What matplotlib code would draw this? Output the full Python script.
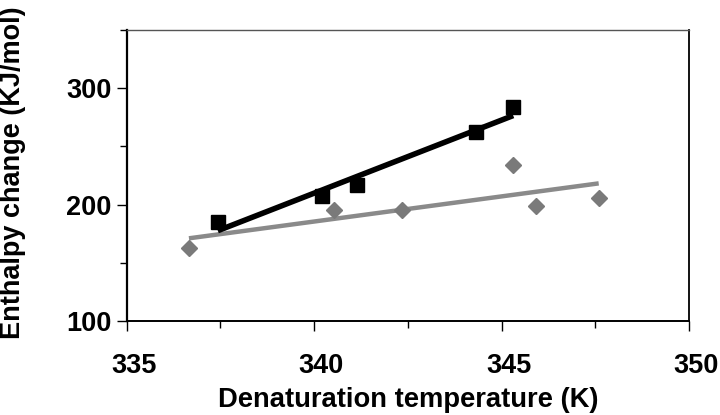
import matplotlib
matplotlib.use("Agg")
import matplotlib.pyplot as plt
import matplotlib.transforms as mtransforms
import numpy as np

# data
square_temp = [337.43, 340.22, 341.15, 344.33, 345.31]
square_enthalpy = [184.8, 207.6, 217.1, 261.9, 283.5]

diamond_temp = [336.66, 340.54, 342.33, 345.31, 345.93, 347.59]
diamond_enthalpy = [162.9, 195.2, 195.2, 233.6, 199.0, 205.9]

x_ticks = [335, 340, 345, 350]
y_ticks = [100, 200, 300]

plt.rcParams["font.family"] = ["Liberation Sans", "DejaVu Sans"]
plt.rcParams["font.weight"] = "bold"

fig = plt.figure(figsize=(7.2, 4.15), dpi=100)
ax = fig.add_axes([0.176, 0.2265, 0.781, 0.7015])

# linear trend lines over each data range
for xs, ys, color, lw in [
    (diamond_temp, diamond_enthalpy, "#8a8a8a", 3.2),
    (square_temp, square_enthalpy, "black", 4.0),
]:
    slope, intercept = np.polyfit(xs, ys, 1)
    xf = np.array([min(xs), max(xs)])
    ax.plot(xf, slope * xf + intercept, color=color, lw=lw, solid_capstyle="butt", zorder=2)

ax.plot(diamond_temp, diamond_enthalpy, "D", color="#7a7a7a", markersize=8.5, zorder=3)
ax.plot(square_temp, square_enthalpy, "s", color="black", markersize=10.5, zorder=4)

ax.set_xlim(335, 350)
ax.set_ylim(100, 350)
ax.set_xticks(x_ticks)
ax.set_xticks([337.5, 342.5, 347.5], minor=True)
ax.set_yticks(y_ticks)
ax.set_yticks([150, 250, 350], minor=True)

ax.tick_params(axis="both", which="major", labelsize=19.5, width=1, length=7, direction="out")
ax.tick_params(axis="both", which="minor", width=1, length=5, direction="out")
ax.tick_params(axis="x", which="major", pad=16)
ax.tick_params(axis="y", which="major", pad=4)
for lbl in ax.get_xticklabels():
    lbl.set_fontweight("bold")
    lbl.set_transform(lbl.get_transform() + mtransforms.ScaledTranslation(7 / 100, 0, fig.dpi_scale_trans))
for lbl in ax.get_yticklabels():
    lbl.set_fontweight("bold")

ax.set_xlabel("Denaturation temperature (K)", fontsize=19.7, fontweight="bold", labelpad=6)
ax.set_ylabel("Enthalpy change (KJ/mol)", fontsize=19.5, fontweight="bold")
ax.yaxis.set_label_coords(-0.18, 0.51)

ax.spines["left"].set_linewidth(1.6)
ax.spines["bottom"].set_linewidth(1.4)
ax.spines["right"].set_linewidth(1.3)
ax.spines["top"].set_linewidth(1.0)
ax.spines["top"].set_color("#555555")

fig.savefig("out.png", dpi=100)
